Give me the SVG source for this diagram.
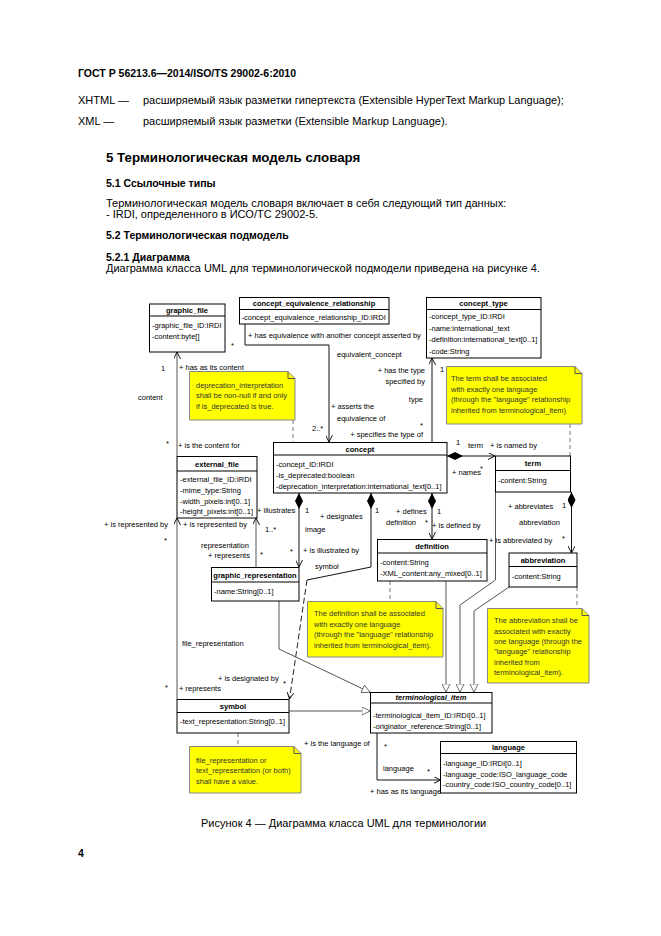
<svg xmlns="http://www.w3.org/2000/svg" width="661" height="936" viewBox="0 0 661 936">
<style>
text{font-family:"Liberation Sans",Arial,sans-serif;fill:#000}
.p{font-size:11px}
.h{font-size:10.5px;font-weight:bold}
.h1{font-size:13.3px;font-weight:bold}
.t{font-size:7.5px}
.tb{font-size:7.5px;font-weight:bold}
.nt{font-size:7.5px;fill:#333}
.box{fill:#fff;stroke:#000;stroke-width:1}
.sep{stroke:#000;stroke-width:1}
.note{fill:#ffff00;stroke:#888;stroke-width:1}
.a{fill:none;stroke:#111;stroke-width:1}
.g{fill:none;stroke:#555;stroke-width:1}
.d{fill:none;stroke:#777;stroke-width:1;stroke-dasharray:4 3}
.ds{fill:none;stroke:#222;stroke-width:1;stroke-dasharray:6 3}
</style>
<defs>
<marker id="arr" viewBox="0 0 10 10" refX="10" refY="5" markerWidth="7" markerHeight="7" orient="auto" markerUnits="userSpaceOnUse"><path d="M0,0 L10,5 L0,10" fill="none" stroke="#000" stroke-width="1.3"/></marker>
<marker id="tri" viewBox="0 0 12 12" refX="12" refY="6" markerWidth="9" markerHeight="9" orient="auto" markerUnits="userSpaceOnUse"><path d="M0.5,0.5 L11.5,6 L0.5,11.5 Z" fill="#fff" stroke="#444" stroke-width="1"/></marker>
<marker id="dia" viewBox="0 0 20 10" refX="0" refY="5" markerWidth="16" markerHeight="8" orient="auto" markerUnits="userSpaceOnUse"><path d="M0,5 L10,0 L20,5 L10,10 Z" fill="#000"/></marker>
</defs>
<rect width="661" height="936" fill="#fff"/>

<g id="page-text">
<text class="h" x="78" y="77">ГОСТ Р 56213.6—2014/ISO/TS 29002-6:2010</text>
<text class="p" x="78" y="104">XHTML —</text>
<text class="p" x="143" y="104">расширяемый язык разметки гипертекста (Extensible HyperText Markup Language);</text>
<text class="p" x="78" y="125">XML —</text>
<text class="p" x="143" y="125">расширяемый язык разметки (Extensible Markup Language).</text>
<text class="h1" x="106" y="162">5 Терминологическая модель словаря</text>
<text class="h" x="106" y="187">5.1 Ссылочные типы</text>
<text class="p" x="106" y="207">Терминологическая модель словаря включает в себя следующий тип данных:</text>
<text class="p" x="106" y="218">- IRDI, определенного в ИСО/ТС 29002-5.</text>
<text class="h" x="106" y="239">5.2 Терминологическая подмодель</text>
<text class="h" x="106" y="261">5.2.1 Диаграмма</text>
<text class="p" x="106" y="272">Диаграмма класса UML для терминологической подмодели приведена на рисунке 4.</text>
<text class="p" x="201" y="827">Рисунок 4 — Диаграмма класса UML для терминологии</text>
<text class="h" x="78" y="857">4</text>
</g>

<g id="connectors">
<path class="a" d="M245,324 V345 H329 V442" marker-end="url(#arr)"/>
<path class="a" d="M432,442 V358" marker-end="url(#arr)"/>
<path class="a" d="M447,456 H495" marker-start="url(#dia)" marker-end="url(#arr)"/>
<path class="a" d="M432,493 V539" marker-start="url(#dia)" marker-end="url(#arr)"/>
<path class="a" d="M371,493 V567 L307,580" marker-start="url(#dia)"/>
<path class="ds" d="M307,580 L289.5,699" marker-end="url(#arr)"/>
<path class="a" d="M299,493 V567" marker-start="url(#dia)" marker-end="url(#arr)"/>
<path class="a" d="M571.5,492 V553" marker-start="url(#dia)" marker-end="url(#arr)"/>
<path class="g" d="M177,456 V352" marker-end="url(#arr)"/>
<path class="g" d="M177,699 V518" marker-end="url(#arr)"/>
<path class="g" d="M256,567 V518" marker-end="url(#arr)"/>
<path class="g" d="M446,581 V692.5" marker-end="url(#tri)"/>
<path class="g" d="M495.5,492 V580 L460,605 V692.5" marker-end="url(#tri)"/>
<path class="g" d="M509,587 L474,611 V692.5" marker-end="url(#tri)"/>
<path class="g" d="M279,601 V649 L370.5,692.5" marker-end="url(#tri)"/>
<path class="g" d="M289,711 H370.5" marker-end="url(#tri)"/>
<path class="a" d="M377,733 V780 H440.5" marker-end="url(#arr)"/>
<path class="d" d="M293,420 V442"/>
<path class="d" d="M570,424 V456"/>
<path class="d" d="M577,587 V608"/>
<path class="d" d="M390,581 V601"/>
<path class="d" d="M238,733 V746"/>
</g>

<g id="labels">
<text class="t" x="179" y="370">+ has as its content</text>
<text class="t" x="161" y="371">1</text>
<text class="t" x="138" y="400">content</text>
<text class="t" x="166" y="446">*</text>
<text class="t" x="178" y="447.5">+ is the content for</text>
<text class="t" x="104" y="526.5">+ is represented by</text>
<text class="t" x="183" y="526.5">+ is represented by</text>
<text class="t" x="265" y="531.5">1..*</text>
<text class="t" x="164" y="543">*</text>
<text class="t" x="201" y="547.5">representation</text>
<text class="t" x="208" y="557.5">+ represents</text>
<text class="t" x="260" y="557">*</text>
<text class="t" x="257" y="512.5">+ illustrates</text>
<text class="t" x="305" y="513">1</text>
<text class="t" x="305" y="531.5">image</text>
<text class="t" x="290" y="554">*</text>
<text class="t" x="303" y="552.5">+ is illustrated by</text>
<text class="t" x="320" y="518.5">+ designates</text>
<text class="t" x="375" y="513">1</text>
<text class="t" x="315" y="568.5">symbol</text>
<text class="t" x="182" y="645.5">file_representation</text>
<text class="t" x="218" y="680.5">+ is designated by</text>
<text class="t" x="283" y="686">*</text>
<text class="t" x="165" y="690">*</text>
<text class="t" x="179" y="690.5">+ represents</text>
<text class="t" x="396" y="513.5">+ defines</text>
<text class="t" x="437" y="514">1</text>
<text class="t" x="386" y="524.5">definition</text>
<text class="t" x="425" y="525">*</text>
<text class="t" x="432" y="527.5">+ is defined by</text>
<text class="t" x="456" y="445">1</text>
<text class="t" x="468" y="447.5">term</text>
<text class="t" x="490" y="447.5">+ is named by</text>
<text class="t" x="452" y="474.5">+ names</text>
<text class="t" x="480" y="471">*</text>
<text class="t" x="508" y="508.5">+ abbreviates</text>
<text class="t" x="562" y="508">1</text>
<text class="t" x="519" y="524.5">abbreviation</text>
<text class="t" x="562" y="541">*</text>
<text class="t" x="489" y="542.5">+ is abbreviated by</text>
<text class="t" x="248" y="337.5">+ has equivalence with another concept asserted by</text>
<text class="t" x="231" y="348">*</text>
<text class="t" x="337" y="356.5">equivalent_concept</text>
<text class="t" x="331" y="408.5">+ asserts the</text>
<text class="t" x="337" y="420.5">equivalence of</text>
<text class="t" x="312" y="430.5">2..*</text>
<text class="t" x="425" y="372.5" text-anchor="end">+ has the type</text>
<text class="t" x="425" y="383.5" text-anchor="end">specified by</text>
<text class="t" x="423" y="401.5" text-anchor="end">type</text>
<text class="t" x="423" y="436.5" text-anchor="end">+ specifies the type of</text>
<text class="t" x="420" y="427.5">*</text>
<text class="t" x="440" y="372">1</text>
<text class="t" x="304" y="745.5">+ is the language of</text>
<text class="t" x="384" y="749">*</text>
<text class="t" x="383" y="770.5">language</text>
<text class="t" x="427" y="774">*</text>
<text class="t" x="370" y="793.5">+ has as its language</text>
</g>

<g id="graphic_file">
<rect class="box" x="149.5" y="304" width="75.5" height="48"/>
<line class="sep" x1="149.5" y1="316" x2="225" y2="316"/>
<text class="tb" x="187" y="313" text-anchor="middle">graphic_file</text>
<text class="t" x="152" y="327.5">-graphic_file_ID:IRDI</text>
<text class="t" x="152" y="338.5">-content:byte[]</text>
</g>

<g id="concept_equivalence_relationship">
<rect class="box" x="239.5" y="297.5" width="149.5" height="26.5"/>
<line class="sep" x1="239.5" y1="309.5" x2="389" y2="309.5"/>
<text class="tb" x="314" y="305.5" text-anchor="middle">concept_equivalence_relationship</text>
<text class="t" x="241.5" y="319.5">-concept_equivalence_relationship_ID:IRDI</text>
</g>

<g id="concept_type">
<rect class="box" x="426.5" y="297.5" width="114.5" height="60.5"/>
<line class="sep" x1="426.5" y1="309.5" x2="541" y2="309.5"/>
<text class="tb" x="483.5" y="305.5" text-anchor="middle">concept_type</text>
<text class="t" x="429" y="319">-concept_type_ID:IRDI</text>
<text class="t" x="429" y="330.5">-name:international_text</text>
<text class="t" x="429" y="342">-definition:international_text[0..1]</text>
<text class="t" x="429" y="353.5">-code:String</text>
</g>

<g id="concept">
<rect class="box" x="273.5" y="442.5" width="173.5" height="50.5"/>
<line class="sep" x1="273.5" y1="455" x2="447" y2="455"/>
<text class="tb" x="360" y="451.5" text-anchor="middle">concept</text>
<text class="t" x="276" y="466.5">-concept_ID:IRDI</text>
<text class="t" x="276" y="477.5">-is_deprecated:boolean</text>
<text class="t" x="276" y="489">-deprecation_interpretation:international_text[0..1]</text>
</g>

<g id="external_file">
<rect class="box" x="177" y="456.5" width="80" height="61.5"/>
<line class="sep" x1="177" y1="471" x2="257" y2="471"/>
<text class="tb" x="217" y="466.5" text-anchor="middle">external_file</text>
<text class="t" x="180" y="482">-external_file_ID:IRDI</text>
<text class="t" x="180" y="492.5">-mime_type:String</text>
<text class="t" x="180" y="503.5">-width_pixels:int[0..1]</text>
<text class="t" x="180" y="514">-height_pixels:int[0..1]</text>
</g>

<g id="graphic_representation">
<rect class="box" x="211.5" y="567.5" width="87.5" height="33.5"/>
<line class="sep" x1="211.5" y1="582" x2="299" y2="582"/>
<text class="tb" x="255" y="577.5" text-anchor="middle">graphic_representation</text>
<text class="t" x="214" y="593.5">-name:String[0..1]</text>
</g>

<g id="definition">
<rect class="box" x="377.5" y="539.5" width="109.5" height="41.5"/>
<line class="sep" x1="377.5" y1="553" x2="487" y2="553"/>
<text class="tb" x="432" y="548.5" text-anchor="middle">definition</text>
<text class="t" x="380" y="564.5">-content:String</text>
<text class="t" x="380" y="575.5">-XML_content:any_mixed[0..1]</text>
</g>

<g id="term">
<rect class="box" x="495.5" y="456" width="75" height="36"/>
<line class="sep" x1="495.5" y1="470.5" x2="570.5" y2="470.5"/>
<text class="tb" x="533" y="466" text-anchor="middle">term</text>
<text class="t" x="498" y="482.5">-content:String</text>
</g>

<g id="abbreviation">
<rect class="box" x="509" y="553" width="68" height="34"/>
<line class="sep" x1="509" y1="566.5" x2="577" y2="566.5"/>
<text class="tb" x="543" y="562.5" text-anchor="middle">abbreviation</text>
<text class="t" x="512" y="578.5">-content:String</text>
</g>

<g id="terminological_item">
<rect class="box" x="370.5" y="692.5" width="121.5" height="40.5"/>
<line class="sep" x1="370.5" y1="703" x2="492" y2="703"/>
<text class="tb" x="431" y="700" text-anchor="middle" font-style="italic">terminological_item</text>
<text class="t" x="373" y="717.5">-terminological_item_ID:IRDI[0..1]</text>
<text class="t" x="373" y="728.5">-originator_reference:String[0..1]</text>
</g>

<g id="language">
<rect class="box" x="440.5" y="741.5" width="136" height="51.5"/>
<line class="sep" x1="440.5" y1="753.5" x2="576.5" y2="753.5"/>
<text class="tb" x="508.5" y="750" text-anchor="middle">language</text>
<text class="t" x="443" y="766">-language_ID:IRDI[0..1]</text>
<text class="t" x="443" y="776.5">-language_code:ISO_language_code</text>
<text class="t" x="443" y="787">-country_code:ISO_country_code[0..1]</text>
</g>

<g id="symbol">
<rect class="box" x="177" y="699.5" width="112" height="33.5"/>
<line class="sep" x1="177" y1="712.5" x2="289" y2="712.5"/>
<text class="tb" x="233" y="708.5" text-anchor="middle">symbol</text>
<text class="t" x="180" y="723.5">-text_representation:String[0..1]</text>
</g>

<g id="note_deprecation">
<path class="note" d="M189.5,371.5 H288 L295,378.5 V420 H189.5 Z"/>
<path class="g" d="M288,371.5 V378.5 H295" stroke="#888"/>
<text class="nt" x="196" y="387.5">deprecation_interpretation</text>
<text class="nt" x="196" y="398">shall be non-null if and only</text>
<text class="nt" x="196" y="408.5">if is_deprecated is true.</text>
</g>

<g id="note_term">
<path class="note" d="M446.5,366.5 H575 L582,373.5 V424 H446.5 Z"/>
<path class="g" d="M575,366.5 V373.5 H582" stroke="#888"/>
<text class="nt" x="451" y="381">The term shall be associated</text>
<text class="nt" x="451" y="391.5">with exactly one language</text>
<text class="nt" x="451" y="402">(through the "language" relationship</text>
<text class="nt" x="451" y="412.5">inherited from terminological_item)</text>
</g>

<g id="note_abbreviation">
<path class="note" d="M487.5,608.5 H582 L589,615.5 V683 H487.5 Z"/>
<path class="g" d="M582,608.5 V615.5 H589" stroke="#888"/>
<text class="nt" x="494" y="623">The abbreviation shall be</text>
<text class="nt" x="494" y="633.5">associated with exactly</text>
<text class="nt" x="494" y="643.5">one language (through the</text>
<text class="nt" x="494" y="654">"language" relationship</text>
<text class="nt" x="494" y="664.5">inherited from</text>
<text class="nt" x="494" y="675">terminological_item).</text>
</g>

<g id="note_definition">
<path class="note" d="M307.5,601.5 H436 L443,608.5 V657 H307.5 Z"/>
<path class="g" d="M436,601.5 V608.5 H443" stroke="#888"/>
<text class="nt" x="314" y="616">The definition shall be associated</text>
<text class="nt" x="314" y="626.5">with exactly one language</text>
<text class="nt" x="314" y="637">(through the "language" relationship</text>
<text class="nt" x="314" y="647.5">inherited from terminological_item).</text>
</g>

<g id="note_symbol">
<path class="note" d="M189.5,746.5 H294 L301,753.5 V793 H189.5 Z"/>
<path class="g" d="M294,746.5 V753.5 H301" stroke="#888"/>
<text class="nt" x="196" y="762.5">file_representation or</text>
<text class="nt" x="196" y="773">text_representation (or both)</text>
<text class="nt" x="196" y="783.5">shall have a value.</text>
</g>
</svg>
